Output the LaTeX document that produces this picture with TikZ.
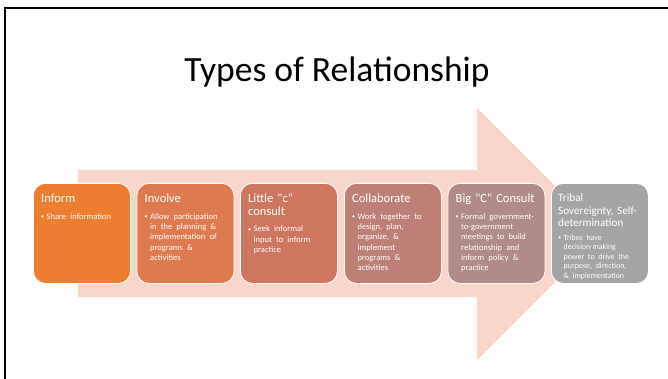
\documentclass[tikz,border=0pt]{standalone}
\usepackage{fontspec}
\setmainfont{Carlito}[Ligatures=TeXOff]
\definecolor{arrowpink}{RGB}{248,214,204}
\definecolor{cA}{RGB}{237,125,49}
\definecolor{cB}{RGB}{221,122,79}
\definecolor{cC}{RGB}{206,118,96}
\definecolor{cD}{RGB}{190,128,118}
\definecolor{cE}{RGB}{176,139,137}
\definecolor{cF}{RGB}{165,165,165}
\newcommand{\bul}[3]{{\fontsize{#1}{#2}\selectfont\let\\\newline\hangindent=5.5pt\hangafter=1\noindent\makebox[5.5pt][l]{\raisebox{0.6pt}{\fontsize{6}{6}\selectfont•}}#3\par}}
\tikzset{
  rbox/.style={rounded corners=12pt, draw=white, line width=0.8pt, minimum width=97pt, minimum height=100pt, anchor=north west, inner sep=0pt},
  txt/.style={text=white, anchor=north west, inner sep=0pt, text width=88pt, execute at begin node={\raggedright\parindent=0pt}, font=\fontsize{12.5}{12.7}\selectfont},
  frameline/.style={line width=2pt, draw=black}
}
\begin{document}
\begin{tikzpicture}[x=1pt,y=-1pt]
\useasboundingbox (0,0) rectangle (668,379);
\fill[white] (0,0) rectangle (668,379);
\coordinate (fb) at (5,379);
\coordinate (fc) at (5,8);
\coordinate (fr) at (668,8);
\draw[frameline] (fb) -- (fc) -- (fr);
\node[anchor=base, font=\fontsize{35.5}{40}\selectfont] (title) at (337,82) {Types of Relationship};
\fill[arrowpink] (78,170) -- (477,170) -- (477,108) -- (603,234) -- (477,360) -- (477,297) -- (78,297) -- cycle;
\node[rbox, fill=cA] (b1) at (33,183) {};
\node[rbox, fill=cB] (b2) at (136.5,183) {};
\node[rbox, fill=cC] (b3) at (240,183) {};
\node[rbox, fill=cD] (b4) at (344,183) {};
\node[rbox, fill=cE] (b5) at (447.5,183) {};
\node[rbox, fill=cF] (b6) at (551,183) {};
\node[txt] (t1) at ([xshift=8pt,yshift=-11pt]b1.north west) {Inform\par\vspace{6pt}\bul{8.5}{10.3}{Share information}};
\node[txt] (t2) at ([xshift=8pt,yshift=-11pt]b2.north west) {Involve\par\vspace{6pt}\bul{8.5}{10.3}{Allow participation\\ in the planning \&\\ implementation of\\ programs \&\\ activities}};
\node[txt] (t3) at ([xshift=8pt,yshift=-11pt]b3.north west) {Little "c"\\ consult\par\vspace{6pt}\bul{8.5}{10.3}{Seek informal\\ input to inform\\ practice}};
\node[txt] (t4) at ([xshift=8pt,yshift=-11pt]b4.north west) {Collaborate\par\vspace{6pt}\bul{8.5}{10.3}{Work together to\\ design, plan,\\ organize, \&\\ implement\\ programs \&\\ activities}};
\node[txt] (t5) at ([xshift=8pt,yshift=-11pt]b5.north west) {Big "C" Consult\par\vspace{6pt}\bul{8.5}{10.3}{Formal government-\\ to-government\\ meetings to build\\ relationship and\\ inform policy \&\\ practice}};
\node[txt, font=\fontsize{11.2}{12.3}\selectfont] (t6) at ([xshift=7pt,yshift=-11pt]b6.north west) {Tribal\\ Sovereignty, Self-\\ determination\par\vspace{4.6pt}\bul{7.9}{9.4}{Tribes have\\ decision-making\\ power to drive the\\ purpose, direction,\\ \& implementation}};
\end{tikzpicture}
\end{document}
